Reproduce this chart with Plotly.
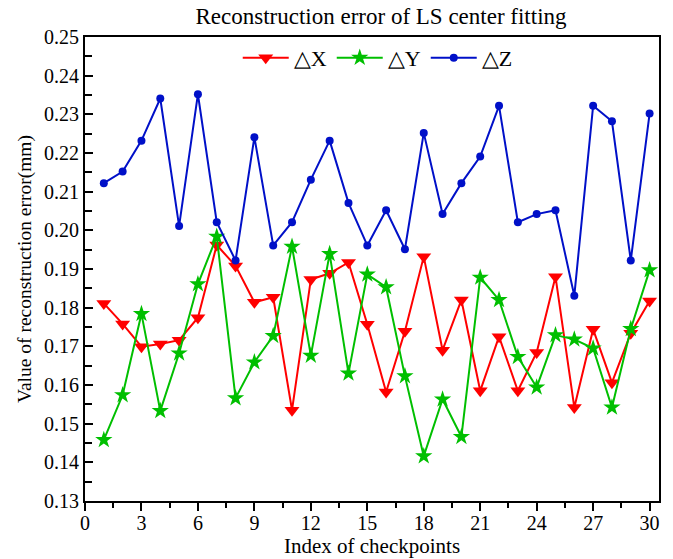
import plotly.graph_objects as go

checkpoints = list(range(1, 31))
dx = [0.1811, 0.1758, 0.1699, 0.1706, 0.1716, 0.1774, 0.1962, 0.1908, 0.1814, 0.1827,
      0.1535, 0.1873, 0.1889, 0.1917, 0.1757, 0.1582, 0.1739, 0.1932, 0.1690, 0.1820,
      0.1585, 0.1725, 0.1585, 0.1684, 0.1880, 0.1542, 0.1744, 0.1606, 0.1734, 0.1817]
dy = [0.1458, 0.1574, 0.1784, 0.1533, 0.1682, 0.1861, 0.1984, 0.1566, 0.1659, 0.1727,
      0.1958, 0.1676, 0.1939, 0.1630, 0.1886, 0.1853, 0.1623, 0.1416, 0.1563, 0.1466,
      0.1878, 0.1820, 0.1673, 0.1594, 0.1729, 0.1718, 0.1695, 0.1542, 0.1745, 0.1897]
dz = [0.2122, 0.2152, 0.2232, 0.2341, 0.2011, 0.2352, 0.2021, 0.1922, 0.2241, 0.1961,
      0.2021, 0.2131, 0.2232, 0.2071, 0.1961, 0.2052, 0.1951, 0.2252, 0.2042, 0.2122,
      0.2191, 0.2322, 0.2021, 0.2042, 0.2052, 0.1831, 0.2322, 0.2282, 0.1922, 0.2302]
series_names = ["△X", "△Y", "△Z"]
x_ticks = list(range(0, 31, 3))

FONT = "Liberation Serif, Times New Roman, serif"

fig = go.Figure()
fig.add_trace(go.Scatter(x=checkpoints, y=dx, name=series_names[0], mode="lines+markers",
                         line=dict(color="#FF0000", width=2),
                         marker=dict(symbol="triangle-down", size=13, color="#FF0000")))
fig.add_trace(go.Scatter(x=checkpoints, y=dy, name=series_names[1], mode="lines+markers",
                         line=dict(color="#00BF00", width=2),
                         marker=dict(symbol="star", size=13, color="#00BF00")))
fig.add_trace(go.Scatter(x=checkpoints, y=dz, name=series_names[2], mode="lines+markers",
                         line=dict(color="#0010C8", width=2),
                         marker=dict(symbol="circle", size=8, color="#0010C8")))

fig.update_layout(
    width=673, height=559,
    margin=dict(l=85, r=14, t=37, b=58),
    paper_bgcolor="white", plot_bgcolor="white",
    font=dict(family=FONT, color="black", size=20),
    title=dict(text="Reconstruction error of LS center fitting", x=381 / 673,
               xanchor="center", y=1 - 16 / 559, yanchor="middle",
               font=dict(family=FONT, size=23, color="black")),
    legend=dict(orientation="h", x=0.51, xanchor="center", y=0.955, yanchor="middle",
                font=dict(family=FONT, size=22, color="black"),
                bgcolor="rgba(0,0,0,0)", itemwidth=46, tracegroupgap=0),
    showlegend=True,
)

fig.update_xaxes(
    range=[0, 30.5], tickvals=x_ticks, ticktext=[str(v) for v in x_ticks],
    showgrid=False, zeroline=False,
    showline=True, linecolor="black", linewidth=2, mirror=True,
    ticks="outside", ticklen=8, tickwidth=1.5, tickcolor="black",
    ticklabelstandoff=-5,
    minor=dict(tickvals=[v + 1.5 for v in x_ticks[:-1]], ticks="outside", ticklen=5,
               tickwidth=1.5, tickcolor="black", showgrid=False),
    tickfont=dict(family=FONT, size=20, color="black"),
    title=dict(text="Index of checkpoints", standoff=4,
               font=dict(family=FONT, size=21, color="black")),
    automargin=False,
)
fig.update_yaxes(
    range=[0.13, 0.25], dtick=0.01, tick0=0.13, tickformat=".2f",
    showgrid=False, zeroline=False,
    showline=True, linecolor="black", linewidth=2, mirror=True,
    ticks="inside", ticklen=8, tickwidth=1.5, tickcolor="black",
    minor=dict(dtick=0.005, ticks="inside", ticklen=7, tickwidth=1.5, tickcolor="black",
               showgrid=False),
    tickfont=dict(family=FONT, size=20, color="black"),
    title=dict(text="Value of reconstruction error(mm)", standoff=7,
               font=dict(family=FONT, size=19.5, color="black")),
    automargin=False,
)

fig.write_html("out.html")
